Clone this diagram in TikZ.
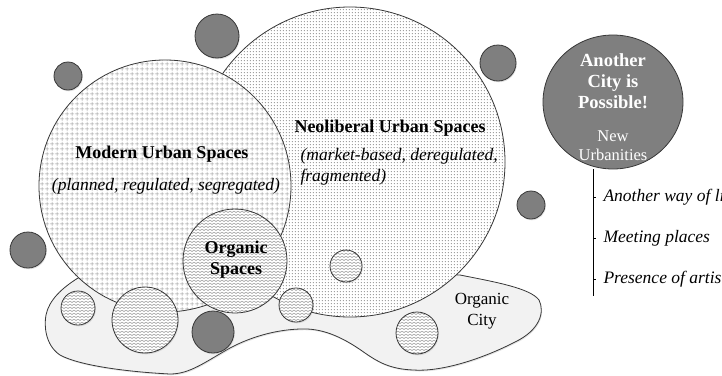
\documentclass[tikz,border=0pt]{standalone}
\usepackage{fontspec}
\setmainfont{Liberation Serif}
\usepackage{tikz}
\usetikzlibrary{patterns,shadows,shapes.geometric,positioning}

\definecolor{discgray}{RGB}{127,127,127}
\definecolor{rimgray}{RGB}{55,55,55}
\definecolor{cityfill}{RGB}{242,242,242}
\definecolor{patgray}{RGB}{160,160,160}
\definecolor{dotgray}{RGB}{110,110,110}

% fills of the three kinds of urban space
\pgfdeclarepatternformonly{smallgrid}{\pgfpointorigin}{\pgfpoint{5pt}{5pt}}{\pgfpoint{5pt}{5pt}}{
  \pgfsetlinewidth{0.8pt}
  \pgfpathmoveto{\pgfpoint{0pt}{2.5pt}}\pgfpathlineto{\pgfpoint{5pt}{2.5pt}}
  \pgfpathmoveto{\pgfpoint{2.5pt}{0pt}}\pgfpathlineto{\pgfpoint{2.5pt}{5pt}}
  \pgfusepath{stroke}}
\pgfdeclarepatternformonly{finedots}{\pgfpointorigin}{\pgfpoint{3.2pt}{2.8pt}}{\pgfpoint{3.2pt}{2.8pt}}{
  \pgfpathcircle{\pgfpoint{1.6pt}{1.4pt}}{0.6pt}
  \pgfusepath{fill}}
\pgfdeclarepatternformonly{zigzag}{\pgfpoint{0pt}{-0.5pt}}{\pgfpoint{4pt}{3pt}}{\pgfpoint{4pt}{3pt}}{
  \pgfsetlinewidth{0.6pt}
  \pgfpathmoveto{\pgfpoint{0pt}{0.5pt}}\pgfpathlineto{\pgfpoint{2pt}{1.8pt}}
  \pgfpathlineto{\pgfpoint{4pt}{0.5pt}}
  \pgfusepath{stroke}}

\begin{document}
\begin{tikzpicture}[x=1pt, y=-1pt,
  rim/.style = {draw=rimgray, line width=0.8pt},
  softshadow/.style = {drop shadow={opacity=0.22, shadow xshift=0.8pt, shadow yshift=-1.3pt}},
  darkdisc/.style = {rim, fill=discgray, softshadow},
  wavedisc/.style = {rim, softshadow, preaction={fill=white}, pattern=zigzag, pattern color=patgray},
  bigspace/.style = {circle, inner sep=0pt, rim, preaction={fill=white}},
  headtext/.style = {font=\fontsize{18}{21}\selectfont\bfseries, align=center},
  subtext/.style = {font=\fontsize{17.5}{21}\selectfont\itshape, align=left},
  plaintext/.style = {font=\fontsize{17}{21}\selectfont, align=center}]

\useasboundingbox (0,0) rectangle (722,375);

% organic city (the blob behind everything)
\draw[rim, fill=cityfill, softshadow]
 (460,275) .. controls (495,282) and (530,288) .. (539,300)
 .. controls (545,312) and (540,330) .. (515,342)
 .. controls (480,360) and (440,372) .. (413,370)
 .. controls (390,369) and (378,362) .. (365,353)
 .. controls (340,335) and (320,328) .. (300,329)
 .. controls (270,330) and (245,340) .. (230,348)
 .. controls (205,362) and (190,374) .. (170,374)
 .. controls (130,372) and (80,366) .. (60,355)
 .. controls (45,345) and (44,325) .. (46,315)
 .. controls (49,300) and (62,288) .. (78,278)
 -- (250,265) -- cycle;

% the big urban spaces
\node[bigspace, minimum size=310pt, pattern=finedots, pattern color=dotgray] (neolib) at (350,162) {};
\node[bigspace, minimum size=252pt, pattern=smallgrid, pattern color=patgray] (modern) at (165,186) {};
\node[bigspace, minimum size=104pt, pattern=zigzag, pattern color=patgray] (organic) at (235,261) {};

% small organic spaces
\foreach \cx/\cy/\r in {78/308/17, 145/320/33, 296/305/17, 346/266/16, 417/333/21}
  \draw[wavedisc] (\cx,\cy) circle [radius=\r];

% dark grey discs
\foreach \cx/\cy/\r in {217/36/22, 68/76/14, 498/63/18, 28/250/18, 213/332/21, 531/205/14}
  \draw[darkdisc] (\cx,\cy) circle [radius=\r];

% labels
\node[headtext] (moderntitle) at (162,154) {Modern Urban Spaces};
\node[subtext] (modernsub) at (166,186) {(planned, regulated, segregated)};
\node[headtext] (neotitle) at (390,128) {Neoliberal Urban Spaces};
\node[subtext, anchor=west] (neosub) at (297,167) {(market-based, deregulated,\\fragmented)};
\node[headtext] (organictitle) at (236,260) {Organic\\Spaces};
\node[plaintext] (citytitle) at (482,311) {Organic\\City};

% another city is possible
\node[ellipse, inner sep=0pt, minimum width=140pt, minimum height=134pt, rim, fill=discgray]
  (another) at (613,102) {};
\node[headtext, text=white, font=\fontsize{18.5}{21}\selectfont\bfseries] (anothertitle) at (613,81) {Another\\City is\\Possible!};
\node[plaintext, text=white, font=\fontsize{16.5}{19}\selectfont] (newurb) at (613,146) {New\\Urbanities};

\coordinate (listend) at (593,296);
\draw[line width=0.8pt] (another.south -| listend) -- (listend);
\foreach \ty/\txt [count=\i] in {197/Another way of living, 238/Meeting places, 279/Presence of artists}
{
  \coordinate (tick\i) at (593,\ty);
  \draw[line width=0.8pt] (tick\i) -- ++(3,0);
  \node[subtext, anchor=west] (item\i) at (600,\ty) {\txt};
}

\end{tikzpicture}
\end{document}
